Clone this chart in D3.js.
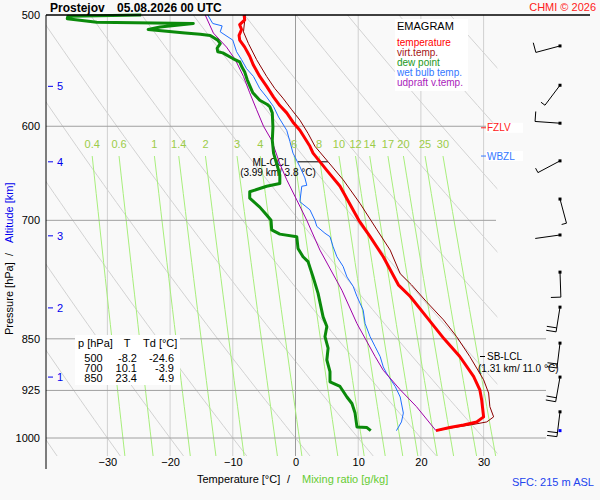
<!DOCTYPE html>
<html>
<head>
<meta charset="utf-8">
<script src="https://cdn.jsdelivr.net/npm/d3@7"></script>
<style>
  body { margin: 0; background: #f9f9f9; }
  svg { display: block; font-family: "Liberation Sans", Arial, sans-serif; }
</style>
</head>
<body>
<div id="chart"></div>
<script>
// sounding profiles, surface first [hPa] / [°C]
const tempP = [988, 983, 979, 974, 966, 940, 924, 904, 875, 850, 820, 793, 778, 743, 719, 700, 662, 645, 627, 620, 604, 596, 587, 580, 572, 562, 553, 543, 535, 527, 521, 517, 512, 508, 504, 500];
const tempT = [22.4, 24.6, 26.8, 28.9, 30.0, 29.7, 29.4, 28.4, 26.2, 23.7, 20.9, 18.3, 16.4, 14.0, 11.9, 10.1, 7.1, 5.0, 2.8, 2.3, 0.7, -0.4, -1.4, -2.5, -3.5, -4.6, -5.7, -6.7, -7.3, -8.1, -8.9, -9.0, -8.6, -8.9, -8.1, -8.2];

const virtP = [988, 983, 979, 974, 966, 950, 929, 909, 875, 847, 824, 800, 778, 764, 735, 711, 681, 655, 636, 620, 607, 594, 584, 573, 564, 553, 538, 524, 514, 500];
const virtT = [22.5, 25.2, 27.8, 30.5, 31.6, 31.0, 30.8, 30.0, 27.8, 25.7, 23.6, 20.9, 18.5, 16.7, 15.1, 13.0, 10.3, 7.6, 5.2, 3.1, 2.0, 0.7, -0.6, -2.0, -3.3, -4.6, -6.2, -7.5, -8.3, -8.0];

const dewP = [988, 983, 982, 960, 945, 935, 919, 912, 897, 880, 863, 847, 833, 820, 789, 768, 749, 743, 733, 719, 716, 711, 700, 694, 685, 675, 668, 662, 659, 650, 645, 627, 614, 601, 587, 581, 579, 575, 568, 556, 549, 545, 540, 537, 532, 531, 528, 524, 521, 517, 516, 515, 512, 510, 507, 506, 503, 501, 500];
const dewT = [12.0, 11.4, 9.8, 9.5, 9.0, 8.2, 7.1, 5.5, 5.5, 5.0, 5.2, 4.7, 5.0, 4.4, 3.6, 2.8, 2.0, 1.2, 0.4, 0.2, -2.5, -3.8, -3.9, -4.6, -5.7, -7.3, -7.3, -4.6, -2.5, -2.5, -2.7, -3.5, -3.7, -3.6, -3.7, -4.1, -4.5, -5.7, -6.8, -7.7, -8.1, -8.5, -8.9, -10.0, -11.6, -12.4, -12.5, -12.0, -12.4, -13.6, -15.2, -17.6, -23.5, -21.6, -16.3, -31.7, -36.4, -36.3, -24.6];

const wetP = [988, 974, 960, 935, 919, 899, 890, 875, 861, 847, 829, 811, 793, 780, 768, 755, 743, 731, 719, 715, 707, 700, 688, 679, 662, 661, 653, 641, 627, 615, 604, 591, 581, 572, 564, 553, 546, 538, 531, 521, 514, 509, 507, 500];
const wetT = [16.1, 16.9, 17.2, 16.7, 15.9, 14.5, 14.0, 13.5, 12.7, 11.9, 11.1, 10.8, 9.8, 9.2, 8.2, 7.6, 6.6, 6.0, 5.5, 4.7, 3.4, 3.1, 2.3, 0.7, 1.0, 1.8, 1.5, 0.7, -0.4, -0.9, -1.4, -2.7, -3.5, -4.6, -5.7, -6.7, -7.8, -8.6, -9.4, -10.0, -12.0, -11.7, -13.2, -14.0];

const upP = [988, 950, 924, 895, 875, 829, 785, 735, 700, 677, 655, 638, 614, 600, 584, 568, 553, 538, 527, 515, 500];
const upT = [22.4, 19.3, 16.7, 14.0, 12.7, 9.8, 7.4, 3.9, 1.8, 0.2, -1.4, -2.5, -3.8, -5.1, -6.2, -7.3, -8.3, -9.6, -11.0, -13.1, -14.4];

// winds every 0.5 km
const barbP = [526, 561, 597, 635, 676, 717, 762, 807, 856, 905, 958];
const barbDir = [255, 217, 274, 242, 165, 262, 178, 189, 187, 190, 187];
const barbKt = [10, 5, 10, 5, 5, 2, 10, 20, 20, 20, 20];
const sfcP = 988;

// axes and reference lines
const isobars = [600, 700, 850, 925, 1000];
const pTicks = [500, 600, 700, 850, 925, 1000];
const tTicks = [-30, -20, -10, 0, 10, 20, 30];
const altKm = [1, 2, 3, 4, 5];
const altP = [905, 808, 718, 636, 562];
const mixW = [0.4, 0.6, 1, 1.4, 2, 3, 4, 6, 8, 10, 12, 14, 17, 20, 25, 30];
const thetas = [-40, -30, -20, -10, 0, 10, 20, 30, 40, 50, 60, 70, 80, 90, 100, 110];

// table
const tabP = [500, 700, 850];
const tabT = [-8.2, 10.1, 23.4];
const tabTd = [-24.6, -3.9, 4.9];

const legendNames = ["temperature", "virt.temp.", "dew point", "wet bulb temp.", "udpraft v.temp."];
const legendColors = ["#ff0000", "#a31515", "#229922", "#3377ff", "#aa22bb"];

const svg = d3.select("#chart").append("svg")
  .attr("width", 600).attr("height", 500);

svg.append("rect").attr("width", 600).attr("height", 500).attr("fill", "#f9f9f9");

const x = d3.scaleLinear().domain([-30, 30]).range([107.4, 483.6]);
const y = d3.scaleLog().domain([500, 1000]).range([15, 438]);
const pBot = 1030;
const xLeft = 46;
const xRight = x(32.2);

svg.append("clipPath").attr("id", "diag")
  .append("rect")
  .attr("x", xLeft).attr("y", y(500))
  .attr("width", xRight - xLeft).attr("height", y(pBot) - y(500));

const grid = svg.append("g").attr("clip-path", "url(#diag)");
const line = d3.line().x((d) => x(d[1])).y((d) => y(d[0]));

// dry adiabats
const adiaP = d3.range(480, pBot + 1, 10);
thetas.forEach((th) => {
  const pts = adiaP.map((p) => [p, (th + 273.15) * Math.pow(p / 1000, 0.286) - 273.15]);
  grid.append("path").attr("d", line(pts))
    .attr("fill", "none").attr("stroke", "#d2d2d2").attr("stroke-width", 1);
});

// isotherms
tTicks.forEach((t) => {
  grid.append("line")
    .attr("x1", x(t)).attr("x2", x(t))
    .attr("y1", y(500)).attr("y2", y(pBot))
    .attr("stroke", t === 0 ? "#9c9c9c" : "#d0d0d0").attr("stroke-width", 1);
});

// mixing ratio lines
function tdFromW(w, p) {
  const e = (w * p) / (622 + w);
  const l = Math.log(e / 6.112);
  return (243.5 * l) / (17.67 - l);
}
const mixTop = 630;
const mixP = d3.range(mixTop, pBot + 1, 20);
mixW.forEach((w) => {
  const pts = mixP.map((p) => [p, tdFromW(w, p)]);
  grid.append("path").attr("d", line(pts))
    .attr("fill", "none").attr("stroke", "#a8ee7c").attr("stroke-width", 1);
});
svg.append("g").selectAll("text").data(mixW).join("text")
  .attr("x", (w) => x(tdFromW(w, mixTop)))
  .attr("y", y(mixTop) - 12)
  .attr("dy", "0.35em")
  .attr("text-anchor", "middle")
  .attr("font-size", 11)
  .attr("fill", "#9ccc48")
  .text((w) => w);

// isobars
isobars.forEach((p) => {
  svg.append("line")
    .attr("x1", xLeft).attr("x2", p >= 850 ? 546 : 496)
    .attr("y1", y(p)).attr("y2", y(p))
    .attr("stroke", "#a0a0a0").attr("stroke-width", 1);
});

// legend box
const lg = svg.append("g");
lg.append("rect").attr("x", 395).attr("y", 19).attr("width", 73).attr("height", 72).attr("fill", "#fff");
lg.append("text").attr("x", 397).attr("y", 26).attr("dy", "0.35em")
  .attr("font-size", 11).attr("fill", "#000").text("EMAGRAM");
lg.selectAll("text.item").data(legendNames).join("text")
  .attr("class", "item")
  .attr("x", 397).attr("y", (d, i) => 42 + i * 10).attr("dy", "0.35em")
  .attr("font-size", 10).attr("fill", (d, i) => legendColors[i])
  .text((d) => d);

// value table
const tb = svg.append("g").attr("font-size", 11).attr("fill", "#000");
tb.append("rect").attr("x", 75).attr("y", 335).attr("width", 105).attr("height", 50).attr("fill", "#fff");
tb.append("text").attr("x", 78).attr("y", 343).attr("dy", "0.35em").text("p [hPa]");
tb.append("text").attr("x", 127).attr("y", 343).attr("dy", "0.35em").attr("text-anchor", "middle").text("T");
tb.append("text").attr("x", 143).attr("y", 343).attr("dy", "0.35em").text("Td [°C]");
tabP.forEach((p, i) => {
  const ry = 358 + i * 10;
  tb.append("text").attr("x", 93.5).attr("y", ry).attr("dy", "0.35em").attr("text-anchor", "middle").text(p);
  tb.append("text").attr("x", 137).attr("y", ry).attr("dy", "0.35em").attr("text-anchor", "end").text(tabT[i].toFixed(1));
  tb.append("text").attr("x", 174).attr("y", ry).attr("dy", "0.35em").attr("text-anchor", "end").text(tabTd[i].toFixed(1));
});

// level labels
const mlY = y(636);
svg.append("line").attr("x1", 298).attr("x2", 328).attr("y1", mlY).attr("y2", mlY).attr("stroke", "#000");
svg.append("text").attr("x", 271).attr("y", mlY + 1).attr("dy", "0.35em").attr("text-anchor", "middle")
  .attr("font-size", 10).text("ML-CCL");
svg.append("text").attr("x", 278).attr("y", mlY + 11).attr("dy", "0.35em").attr("text-anchor", "middle")
  .attr("font-size", 10).text("(3.99 km/ 3.8 °C)");

function levelTag(p, label, color) {
  const ly = y(p);
  svg.append("rect").attr("x", 486).attr("y", ly - 5).attr("width", 37).attr("height", 10).attr("fill", "#fff");
  svg.append("line").attr("x1", 481).attr("x2", 486).attr("y1", ly).attr("y2", ly).attr("stroke", color);
  svg.append("text").attr("x", 487).attr("y", ly).attr("dy", "0.35em")
    .attr("font-size", 10).attr("fill", color).text(label);
}
levelTag(601.5, "FZLV", "#ff2020");
levelTag(630, "WBZL", "#3377ff");

const lclY = y(875);
svg.append("line").attr("x1", 480).attr("x2", 485).attr("y1", lclY).attr("y2", lclY).attr("stroke", "#000");
svg.append("text").attr("x", 487).attr("y", lclY).attr("dy", "0.35em").attr("font-size", 10).text("SB-LCL");
svg.append("text").attr("x", 478).attr("y", lclY + 11.5).attr("dy", "0.35em").attr("font-size", 10).text("(1.31 km/ 11.0 °C)");

// profiles
function profile(P, T, color, width) {
  svg.append("path").attr("d", line(d3.zip(P, T)))
    .attr("fill", "none").attr("stroke", color).attr("stroke-width", width)
    .attr("stroke-linejoin", "round");
}
profile(virtP, virtT, "#8b0000", 1);
profile(tempP, tempT, "#ff0000", 3);
profile(wetP, wetT, "#1f6fff", 1);
profile(upP, upT, "#a000a8", 1);
profile(dewP, dewT, "#0b8a0b", 3);

// frame
svg.append("line").attr("x1", xLeft).attr("x2", xLeft).attr("y1", y(500)).attr("y2", 469).attr("stroke", "#000");
svg.append("line").attr("x1", xLeft).attr("x2", 590).attr("y1", y(500)).attr("y2", y(500)).attr("stroke", "#000").attr("stroke-width", 1.5);

svg.append("g")
  .attr("transform", `translate(${xLeft},0)`)
  .call(d3.axisLeft(y).tickValues(pTicks).tickFormat(d3.format("d")).tickSize(0).tickPadding(6))
  .call((g) => g.attr("font-family", null).attr("font-size", 11))
  .call((g) => g.select(".domain").remove());

svg.append("g")
  .attr("transform", `translate(0,${y(pBot)})`)
  .call(d3.axisBottom(x).tickValues(tTicks).tickFormat(d3.format("d")).tickSize(0).tickPadding(2))
  .call((g) => g.attr("font-family", null).attr("font-size", 11))
  .call((g) => g.select(".domain").remove());

// altitude ticks
altKm.forEach((km, i) => {
  const ay = y(altP[i]);
  svg.append("line").attr("x1", 48).attr("x2", 53).attr("y1", ay).attr("y2", ay).attr("stroke", "#0000ee");
  svg.append("text").attr("x", 57).attr("y", ay).attr("dy", "0.35em")
    .attr("font-size", 11).attr("fill", "#0000ee").text(km);
});

// titles
svg.append("text").attr("x", 50).attr("y", 11.5).attr("font-size", 12).attr("font-weight", "bold").text("Prostejov");
svg.append("text").attr("x", 117).attr("y", 11.5).attr("font-size", 12).attr("font-weight", "bold").text("05.08.2026 00 UTC");
svg.append("text").attr("x", 596).attr("y", 11).attr("text-anchor", "end").attr("font-size", 11).attr("fill", "#ff2020").text("CHMI © 2026");

svg.append("text").attr("x", 197).attr("y", 479).attr("dy", "0.35em").attr("font-size", 11).text("Temperature [°C]");
svg.append("text").attr("x", 287).attr("y", 479).attr("dy", "0.35em").attr("font-size", 11).text("/");
svg.append("text").attr("x", 302).attr("y", 479).attr("dy", "0.35em").attr("font-size", 11).attr("fill", "#66cc33").text("Mixing ratio [g/kg]");
svg.append("text").attr("x", 512).attr("y", 482).attr("dy", "0.35em").attr("font-size", 11).attr("fill", "#2244ee").text("SFC: 215 m ASL");

const yt = svg.append("g").attr("transform", "translate(9,0) rotate(-90)").attr("font-size", 11);
yt.append("text").attr("x", -335).attr("y", 0).attr("dy", "0.35em").text("Pressure [hPa]");
yt.append("text").attr("x", -256).attr("y", 0).attr("dy", "0.35em").text("/");
yt.append("text").attr("x", -243).attr("y", 0).attr("dy", "0.35em").attr("fill", "#0000ee").text("Altitude [km]");

// wind barbs
const barbX = 560;
const staff = 25;
const wb = svg.append("g").attr("stroke", "#000").attr("stroke-width", 1);
barbP.forEach((p, i) => {
  const y0 = y(p);
  const a = (barbDir[i] * Math.PI) / 180;
  const ux = Math.sin(a), uy = -Math.cos(a);
  const nx = -uy, ny = ux;
  const ex = barbX + staff * ux, ey = y0 + staff * uy;
  wb.append("line").attr("x1", barbX).attr("y1", y0).attr("x2", ex).attr("y2", ey);
  const full = Math.floor(barbKt[i] / 10);
  const half = barbKt[i] % 10 >= 5;
  let pos = 0;
  for (let j = 0; j < full; j++) {
    const bx = ex - pos * ux, by = ey - pos * uy;
    wb.append("line").attr("x1", bx).attr("y1", by).attr("x2", bx + 10 * nx).attr("y2", by + 10 * ny);
    pos += 4;
  }
  if (half) {
    const bx = ex - pos * ux, by = ey - pos * uy;
    wb.append("line").attr("x1", bx).attr("y1", by).attr("x2", bx + 5 * nx).attr("y2", by + 5 * ny);
  }
  svg.append("rect").attr("x", barbX - 1.5).attr("y", y0 - 1.5).attr("width", 3).attr("height", 3).attr("fill", "#000");
});
svg.append("rect").attr("x", barbX - 1.5).attr("y", y(sfcP) - 1.5).attr("width", 3).attr("height", 3).attr("fill", "#0000ff");
</script>
</body>
</html>
